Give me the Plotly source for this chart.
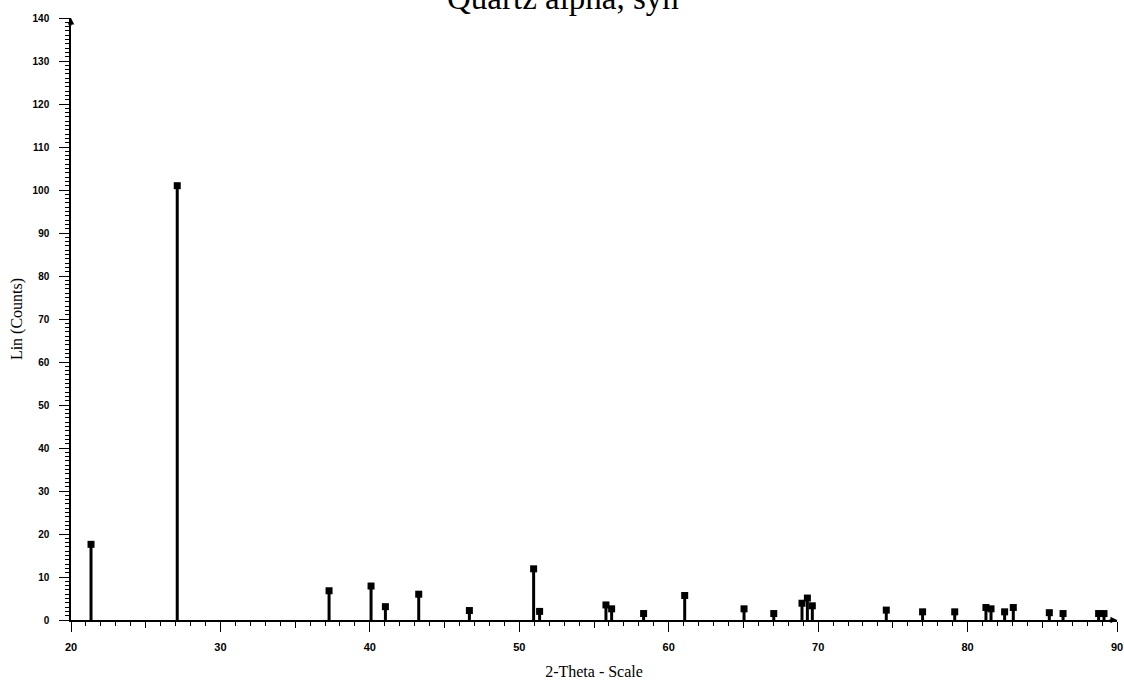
import plotly.graph_objects as go

# Reference pattern: Quartz alpha, syn (stick pattern)
two_theta = [21.34, 27.11, 37.27, 40.08, 41.04, 43.27, 46.66, 50.96, 51.36,
             55.80, 56.18, 58.32, 61.07, 65.04, 67.03, 68.92, 69.28, 69.61,
             74.56, 76.99, 79.14, 81.23, 81.57, 82.48, 83.06, 85.47, 86.39,
             88.77, 89.13]
intensity = [17.6, 101.0, 6.8, 7.9, 3.1, 6.0, 2.2, 11.9, 2.0,
             3.5, 2.6, 1.5, 5.7, 2.6, 1.5, 3.9, 5.1, 3.3,
             2.3, 1.9, 1.9, 2.9, 2.6, 1.9, 2.9, 1.7, 1.5,
             1.5, 1.5]

x_range = [20, 90]
y_range = [0, 140]
mid_ticks = [25, 35, 45, 55, 65, 75, 85]

# stems from the baseline up to each peak intensity
stem_x, stem_y = [], []
for t, v in zip(two_theta, intensity):
    stem_x += [t, t, None]
    stem_y += [0, v, None]

fig = go.Figure()
fig.add_trace(go.Scatter(x=stem_x, y=stem_y, mode="lines",
                         line=dict(color="black", width=3),
                         hoverinfo="skip", showlegend=False))
fig.add_trace(go.Scatter(x=two_theta, y=intensity, mode="markers",
                         marker=dict(symbol="square", size=7, color="black"),
                         showlegend=False))
# carrier for the secondary tick axis (5-degree ticks)
fig.add_trace(go.Scatter(x=[x_range[0]], y=[0], xaxis="x2", mode="markers",
                         marker=dict(opacity=0), hoverinfo="skip",
                         showlegend=False))

tick_font = dict(family="Liberation Sans, Arial", size=11, color="black",
                 weight="bold")
serif = "Liberation Serif, Times New Roman, serif"

fig.update_layout(
    width=1124, height=684,
    margin=dict(l=71, r=7, t=18, b=64, autoexpand=False),
    paper_bgcolor="white", plot_bgcolor="white",
    xaxis=dict(range=x_range, tickmode="linear", tick0=20, dtick=10,
               automargin=False,
               ticks="outside", ticklen=10, tickwidth=1.3, tickcolor="black",
               showline=True, linecolor="black", linewidth=1.5,
               showgrid=False, zeroline=False, tickfont=tick_font,
               ticklabelstandoff=6,
               minor=dict(dtick=1, ticks="outside", ticklen=4, tickwidth=1,
                          tickcolor="black", showgrid=False),
               title=dict(text="2-Theta - Scale",
                          font=dict(family=serif, size=16, color="black"),
                          standoff=14)),
    xaxis2=dict(range=x_range, overlaying="x", anchor="y", side="bottom",
                automargin=False,
                tickmode="array", tickvals=mid_ticks, ticks="outside",
                ticklen=7, tickwidth=1.2, tickcolor="black",
                showticklabels=False, showline=False, showgrid=False,
                zeroline=False),
    yaxis=dict(range=y_range, tickmode="linear", tick0=0, dtick=10,
               automargin=False,
               ticks="outside", ticklen=10, tickwidth=1.3, tickcolor="black",
               showline=True, linecolor="black", linewidth=1.5,
               showgrid=False, zeroline=False,
               tickfont=dict(family="Liberation Sans, Arial", size=10,
                             color="black", weight="bold"),
               ticklabelstandoff=8,
               minor=dict(dtick=1, ticks="outside", ticklen=4, tickwidth=1,
                          tickcolor="black", showgrid=False),
               title=dict(text="Lin (Counts)",
                          font=dict(family=serif, size=16, color="black"),
                          standoff=6)),
    annotations=[
        dict(text="Quartz alpha, syn", xref="paper", yref="paper",
             x=0.47, y=1, xanchor="center", yanchor="bottom", yshift=0,
             showarrow=False,
             font=dict(family=serif, size=33, color="black")),
        # arrow heads at the ends of both axes
        dict(x=90, y=0, xref="x", yref="y", ax=-9, ay=0, text="",
             showarrow=True, arrowhead=2, arrowsize=1, arrowwidth=1.3,
             arrowcolor="black"),
        dict(x=20, y=140, xref="x", yref="y", ax=0, ay=9, text="",
             showarrow=True, arrowhead=2, arrowsize=1, arrowwidth=1.3,
             arrowcolor="black"),
    ],
)

fig.write_html("out.html")
